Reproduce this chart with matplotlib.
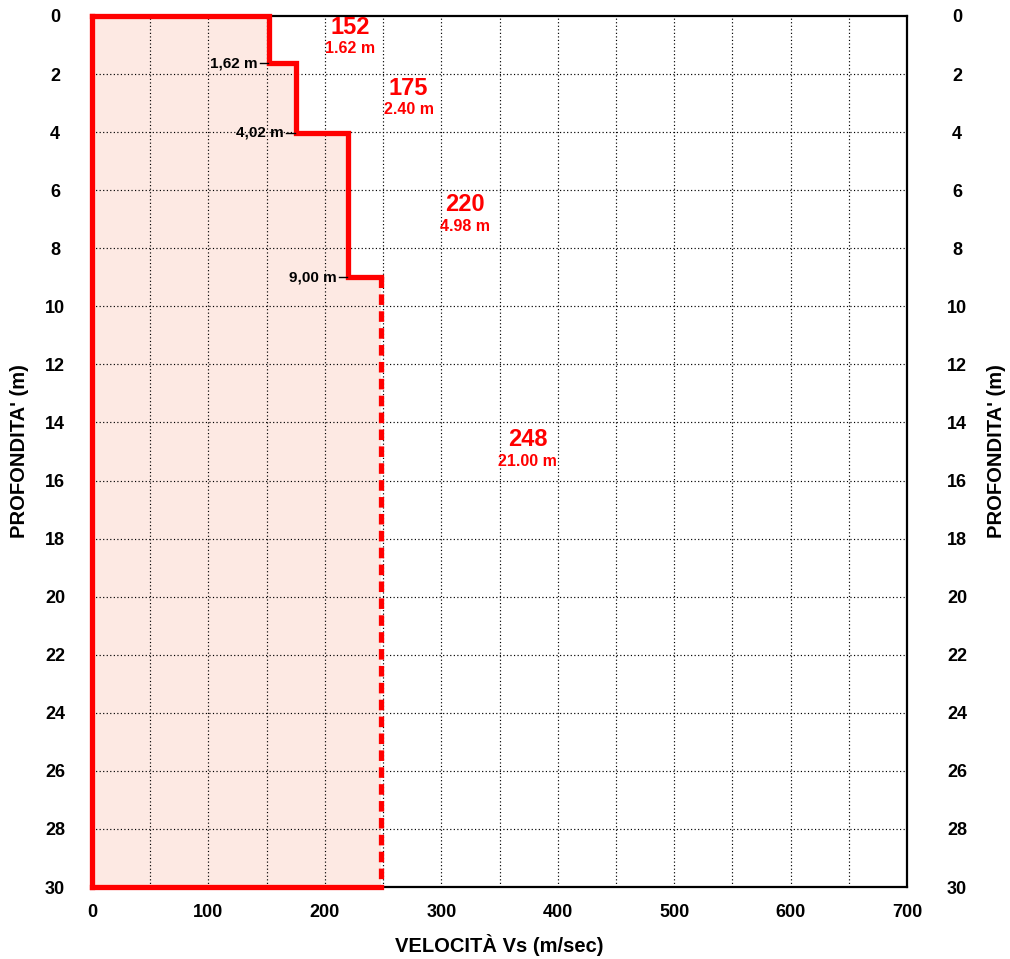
import matplotlib
matplotlib.use("Agg")
import matplotlib.pyplot as plt

plt.rcParams['font.family'] = ['Liberation Sans', 'DejaVu Sans']
plt.rcParams['font.weight'] = 'bold'

# Layer model: shear-wave velocity and bottom depth of each layer
velocities = [152, 175, 220, 248]
bottoms = [1.62, 4.02, 9.00, 30.00]
thicknesses = [1.62, 2.40, 4.98, 21.00]
interface_labels = ["1,62 m", "4,02 m", "9,00 m"]

x_ticks = [0, 100, 200, 300, 400, 500, 600, 700]
y_ticks = list(range(0, 31, 2))

# Where the red layer annotations sit (velocity, depth)
label_pos = [(222, 0.38), (272, 2.48), (320, 6.50), (374, 14.60)]

RED = "#ff0000"
FILL = "#fde9e3"
PX = 72 / 100  # points per pixel at 100 dpi

fig = plt.figure(figsize=(10.10, 9.59), dpi=100)
ax = fig.add_axes([92/1010, 72/959, 815/1010, 871/959])
ax.set_xlim(0, 700)
ax.set_ylim(30, 0)

# grid
ax.set_xticks(x_ticks)
ax.set_yticks(y_ticks)
for xv in range(50, 700, 50):
    ax.axvline(xv, color="black", lw=0.85, ls=(0, (1, 2)), zorder=1)
for yv in y_ticks[1:-1]:
    ax.axhline(yv, color="black", lw=0.85, ls=(0, (1, 2)), zorder=1)

# step profile
xs, ys = [0], [0]
top = 0
for v, b in zip(velocities[:-1], bottoms[:-1]):
    xs += [v, v]
    ys += [top, b]
    top = b
xs.append(velocities[-1])
ys.append(bottoms[-2])

# fill under profile
fx = [0] + xs[1:] + [velocities[-1], velocities[-1], 0]
fy = [0] + ys[1:] + [bottoms[-2], bottoms[-1], bottoms[-1]]
ax.fill(fx, fy, color=FILL, zorder=0.5, lw=0)

ax.plot(xs, ys, color=RED, lw=3.8, solid_joinstyle="miter", zorder=5, clip_on=False)
ax.plot([0, 0], [0, bottoms[-1]], color=RED, lw=3.8, zorder=5, clip_on=False)
ax.plot([0, velocities[-1]], [bottoms[-1], bottoms[-1]], color=RED, lw=3.8, zorder=5, clip_on=False)
ax.plot([velocities[-1], velocities[-1]], [bottoms[-2], bottoms[-1]], color=RED, lw=3.8,
        ls=(0, (2.0, 1.2)), zorder=5, clip_on=False)

# interface depth labels
for v, b, t in zip(velocities[:-1], bottoms[:-1], interface_labels):
    ax.plot([v - 8, v - 1], [b, b], color="black", lw=1.0, zorder=6)
    ax.text(v - 10, b, t, ha="right", va="center", fontsize=11, fontweight="bold", zorder=6)

# layer velocity / thickness labels
for (lx, ly), v, h in zip(label_pos, velocities, thicknesses):
    ax.text(lx, ly, f"{v}", color=RED, ha="center", va="center", fontsize=17, fontweight="bold", zorder=6)
    ax.text(lx, ly + 0.74, f"{h:.2f} m", color=RED, ha="center", va="center", fontsize=11.5, fontweight="bold", zorder=6)

for s in ax.spines.values():
    s.set_color("black")
    s.set_linewidth(1.6)

ax.tick_params(axis="x", length=0, labelsize=13, pad=17 * PX)
ax.tick_params(axis="y", length=0, labelsize=13, pad=37 * PX)
for lbl in ax.get_yticklabels():
    lbl.set_ha("center")
    lbl.set_fontweight("bold")
for lbl in ax.get_xticklabels():
    lbl.set_fontweight("bold")

ax.set_xlabel("VELOCITÀ Vs (m/sec)", fontsize=14.5, fontweight="bold")
ax.xaxis.set_label_coords(0.5, (887 - 945) / 871)
ax.xaxis.label.set_va("center")
ax.set_ylabel("PROFONDITA' (m)", fontsize=14.5, fontweight="bold")
ax.yaxis.set_label_coords((20 - 92) / 815, 0.5)
ax.yaxis.label.set_va("center")

ax2 = ax.twinx()
ax2.set_ylim(30, 0)
ax2.set_yticks(y_ticks)
ax2.tick_params(axis="y", length=0, labelsize=13, pad=50 * PX)
for lbl in ax2.get_yticklabels():
    lbl.set_ha("center")
    lbl.set_fontweight("bold")
for s in ax2.spines.values():
    s.set_visible(False)
ax2.set_ylabel("PROFONDITA' (m)", fontsize=14.5, fontweight="bold")
ax2.yaxis.set_label_coords((997 - 92) / 815, 0.5)
ax2.yaxis.label.set_va("center")

fig.savefig("out.png", dpi=100)
